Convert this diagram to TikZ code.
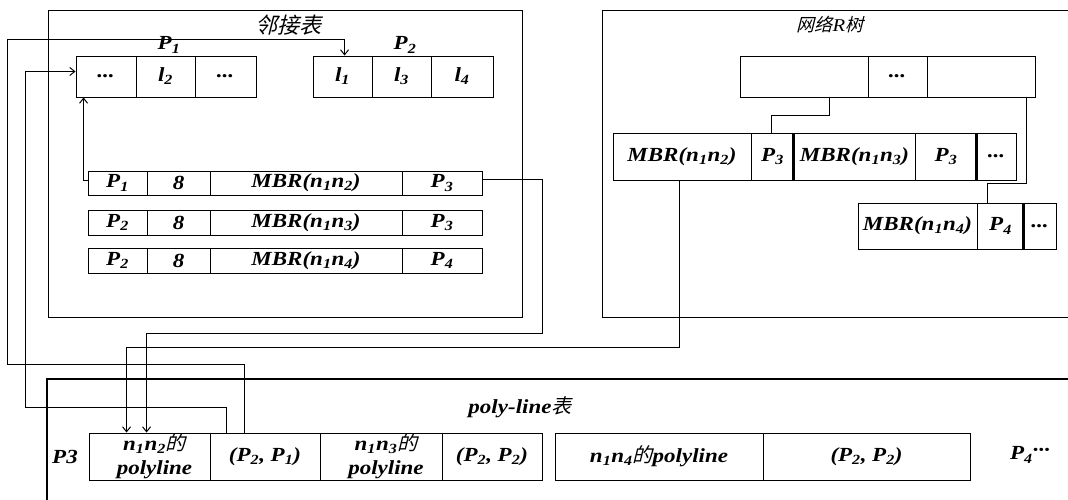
\documentclass[tikz,border=0pt]{standalone}
\usepackage{fontspec}
\setmainfont{Liberation Serif}[FakeStretch=1.15]
\newfontfamily\cjk{Noto Sans CJK SC}[FakeSlant=0.25]
\usetikzlibrary{arrows.meta,calc}

% Chinese text and small index helpers
\newcommand\zh[1]{{\cjk\mdseries\upshape #1}}
\newcommand\sbx[1]{\textsubscript{#1}}

\tikzset{
  cell/.style={draw, line width=0.9pt, inner sep=0pt, align=center},
  frame/.style={draw, line width=0.9pt},
  link/.style={line width=1pt},
  arr/.style={link, -{Straight Barb[length=5pt,width=8pt]}},
  divider/.style={line width=2.2pt},
}

% one table cell from its left/right and top/bottom edges
\newcommand\mkcell[6]{%
  \node[cell, minimum width={(#3)-(#2)}, minimum height={(#5)-(#4)}]
    (#1) at ({((#2)+(#3))/2},{((#4)+(#5))/2}) {#6};}

\begin{document}
\begin{tikzpicture}[x=1pt, y=-1pt,
  font=\fontsize{20}{24}\selectfont\bfseries\itshape]
\fill[white] (0,0) rectangle (1068,500);
\useasboundingbox (0,0) rectangle (1068,500);

% ---------- adjacency table ----------
\node[frame, minimum width=474, minimum height=307, inner sep=0] (adj) at (285,163.5) {};
\node[font=\fontsize{22}{26}\selectfont] (adjtitle) at (288,25) {\zh{邻接表}};
\node (p1lbl) at (169,45) {P\sbx{1}};
\node (p2lbl) at (405,45) {P\sbx{2}};

\mkcell{pa}{76}{136}{56}{97}{...}
\mkcell{pb}{136}{195}{56}{97}{l\sbx{2}}
\mkcell{pc}{195}{256}{56}{97}{...}

\mkcell{qa}{313}{372}{56}{97}{l\sbx{1}}
\mkcell{qb}{372}{431}{56}{97}{l\sbx{3}}
\mkcell{qc}{431}{493}{56}{97}{l\sbx{4}}

\mkcell{ra1}{88}{147}{171}{195}{P\sbx{1}}
\mkcell{ra2}{147}{210}{171}{195}{8}
\mkcell{ra3}{210}{402}{171}{195}{MBR(n\sbx{1}n\sbx{2})}
\mkcell{ra4}{402}{482}{171}{195}{P\sbx{3}}

\mkcell{rb1}{88}{147}{210}{235}{P\sbx{2}}
\mkcell{rb2}{147}{210}{210}{235}{8}
\mkcell{rb3}{210}{402}{210}{235}{MBR(n\sbx{1}n\sbx{3})}
\mkcell{rb4}{402}{482}{210}{235}{P\sbx{3}}

\mkcell{rc1}{88}{147}{248}{273}{P\sbx{2}}
\mkcell{rc2}{147}{210}{248}{273}{8}
\mkcell{rc3}{210}{402}{248}{273}{MBR(n\sbx{1}n\sbx{4})}
\mkcell{rc4}{402}{482}{248}{273}{P\sbx{4}}

% ---------- network R-tree ----------
\draw[frame] (1068,10) -- (602,10) -- (602,317) -- (1068,317);
\node[font=\fontsize{18}{22}\selectfont\mdseries\itshape] (rtitle) at (830,25) {\zh{网络}R\zh{树}};

\mkcell{ta}{740}{868}{56}{97}{}
\mkcell{tb}{868}{927}{56}{97}{...}
\mkcell{tc}{927}{1035}{56}{97}{}

\mkcell{ma}{613}{751}{133}{180}{MBR(n\sbx{1}n\sbx{2})}
\mkcell{mb}{751}{794}{133}{180}{P\sbx{3}}
\mkcell{mc}{794}{915}{133}{180}{MBR(n\sbx{1}n\sbx{3})}
\mkcell{md}{915}{977}{133}{180}{P\sbx{3}}
\mkcell{me}{977}{1016}{133}{180}{...}

\mkcell{sa}{858}{977}{203}{249}{MBR(n\sbx{1}n\sbx{4})}
\mkcell{sb}{977}{1024}{203}{249}{P\sbx{4}}
\mkcell{sc}{1024}{1056}{203}{249}{...}

\draw[divider] (mc.north west) -- (mc.south west);
\draw[divider] (me.north west) -- (me.south west);
\draw[divider] (sc.north west) -- (sc.south west);

\draw[link] ([xshift=90pt]ta.south west) -- ++(0,18) -| ([xshift=21pt]mb.north west);
\draw[link] ([xshift=100pt]tc.south west) -- ++(0,86) -| ([xshift=11pt]sb.north west);

% ---------- poly-line table ----------
\draw[line width=1.2pt] (47,500) -- (47,379) -- (1068,379);
\node (pltitle) at (520,407) {poly-line\zh{表}};
\node (p3lbl) at (65,457) {P3};

\mkcell{la}{89}{210}{433}{480}{\hspace*{10pt}n\sbx{1}n\sbx{2}\zh{的}\\\hspace*{10pt}polyline}
\mkcell{lb}{210}{320}{433}{480}{(P\sbx{2}, P\sbx{1})}
\mkcell{lc}{320}{442}{433}{480}{\hspace*{10pt}n\sbx{1}n\sbx{3}\zh{的}\\\hspace*{10pt}polyline}
\mkcell{ld}{442}{542}{433}{480}{(P\sbx{2}, P\sbx{2})}

\mkcell{ea}{555}{763}{433}{480}{n\sbx{1}n\sbx{4}\zh{的}polyline}
\mkcell{eb}{763}{970}{433}{480}{(P\sbx{2}, P\sbx{2})}

\node (p4lbl) at (1030,455) {P\sbx{4}\raisebox{3pt}{\textperiodcentered\textperiodcentered\textperiodcentered}};

% ---------- links between the tables ----------
\draw[arr] ([yshift=3pt]ra1.west) -| ([xshift=8pt]pa.south west);
\draw[arr] ([yshift=4pt]ra4.east) -- ++(60,0) -- ++(0,154) -| ([xshift=58pt]la.north west);
\draw[arr] ([xshift=67pt]ma.south west) -- ++(0,167) -| ([xshift=38pt]la.north west);
\draw[arr] ([xshift=35pt]lb.north west) -- ++(0,-68) -- ++(-237,0) -- ++(0,-325)
  -| ([xshift=32pt]qa.north west);
\draw[arr] ([xshift=17pt]lb.north west) -- ++(0,-25) -- ++(-201,0) |- ([yshift=5pt]pa.west);
\end{tikzpicture}
\end{document}
